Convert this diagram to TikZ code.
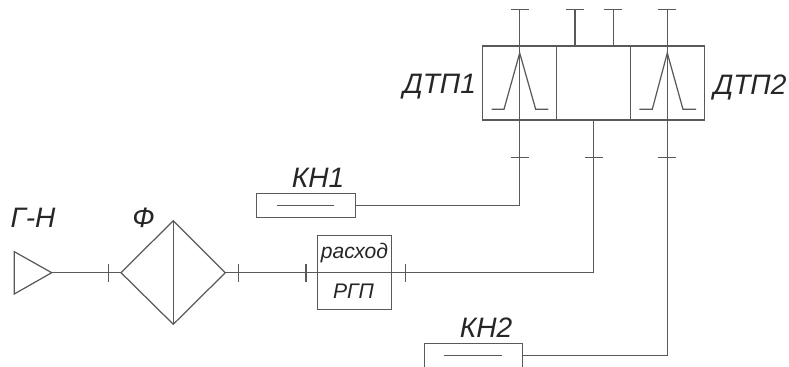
\documentclass[tikz,border=0pt]{standalone}
\usepackage{fontspec}
\setmainfont{Liberation Sans}

\begin{document}
\begin{tikzpicture}[%
  x=0.02cm, y=-0.02cm,
  line/.style = {line width=0.7pt, draw=black!65},
  boxed/.style = {line, rectangle, inner sep=0pt, outer sep=0pt},
  caption/.style = {inner sep=0pt, text=black!85, font=\fontsize{16}{16}\selectfont\itshape},
  small/.style = {inner sep=0pt, text=black!85, font=\fontsize{12}{12}\selectfont\itshape},
]

  \useasboundingbox (0,0) rectangle (789,367);

  % transducer block
  \node[boxed, minimum width=1.48cm, minimum height=1.48cm] (DTPa) at (519.7,83) {};
  \node[boxed, minimum width=1.48cm, minimum height=1.48cm] (DTPm) at (593.5,83) {};
  \node[boxed, minimum width=1.48cm, minimum height=1.48cm] (DTPb) at (667.3,83) {};

  \coordinate (Ta) at (519.7,9.3);
  \coordinate (Tb) at (575,9.3);
  \coordinate (Tc) at (613.3,9.3);
  \coordinate (Td) at (667.3,9.3);
  \coordinate (Sb) at (575,46);
  \coordinate (Sc) at (613.3,46);

  \coordinate (Ba) at (519.7,157.3);
  \coordinate (Bm) at (593.5,157.3);
  \coordinate (Bb) at (667.3,157.3);

  \draw[line] (Tb) -- (Sb);
  \draw[line] (Tc) -- (Sc);

  % peaks
  \draw[line] (491.7,109.3) -- (504,109.3) -- (519.7,53) -- (535.7,109.3) -- (548.3,109.3);
  \draw[line] (639.3,109.3) -- (652.3,109.3) -- (667.3,53) -- (683,109.3) -- (696,109.3);

  % source and filter
  \coordinate (GNa) at (14.3,251.7);
  \coordinate (GNb) at (14.3,294);
  \coordinate (GNc) at (51.7,272.7);
  \draw[line] (GNa) -- (GNc) -- (GNb) -- cycle;

  \coordinate (Fl) at (121,272.7);
  \coordinate (Ft) at (173.3,220.7);
  \coordinate (Fr) at (225.3,272.7);
  \coordinate (Fb) at (173.3,324.3);
  \draw[line] (Fl) -- (Ft) -- (Fr) -- (Fb) -- cycle;
  \draw[line] (Ft) -- (Fb);

  % flow meter and needle valves
  \node[boxed, minimum width=1.49cm, minimum height=1.47cm] (RGP) at (354.5,272.5) {};
  \node[boxed, minimum width=1.98cm, minimum height=0.49cm] (KNa) at (305.8,205.6) {};
  \node[boxed, minimum width=1.96cm, minimum height=0.50cm] (KNb) at (473.3,355.7) {};
  \draw[line] (276.7,205.6) -- (334.3,205.6);
  \draw[line] (444.3,355.7) -- (502.3,355.7);

  \coordinate (Ja) at (519.7,205.6);
  \coordinate (Jb) at (593.5,272.7);
  \coordinate (Jc) at (667.3,355.7);

  % connections
  \draw[line] (Ta) -- (Ba) -- (Ja) -- (KNa.east);
  \draw[line] (Td) -- (Bb) -- (Jc) -- (KNb.east);
  \draw[line] (DTPm.south) -- (Bm) -- (Jb);
  \draw[line] (GNc) -- (Fl);
  \draw[line] (Fr) -- (Jb);

  % ticks
  \foreach \p in {Ta,Tb,Tc,Td,Ba,Bm,Bb}
    \draw[line] ([xshift=-0.18cm]\p) -- ([xshift=0.18cm]\p);
  \foreach \q in {108.3,238.7,306,405.7}
    \draw[line] (\q,263.7) -- (\q,281.7);

  % labels
  \node[caption] (lGN) at (33,218) {Г-Н};
  \node[caption] (lF) at (143.5,218) {Ф};
  \node[caption] (lKNa) at (318,178) {КН1};
  \node[caption] (lKNb) at (486,328) {КН2};
  \node[caption] (lDa) at (439.5,87) {ДТП1};
  \node[caption] (lDb) at (750,87) {ДТП2};
  \node[small] (lFlow) at (354.5,253) {расход};
  \node[small] (lRGP) at (353.5,291.5) {РГП};

\end{tikzpicture}
\end{document}
